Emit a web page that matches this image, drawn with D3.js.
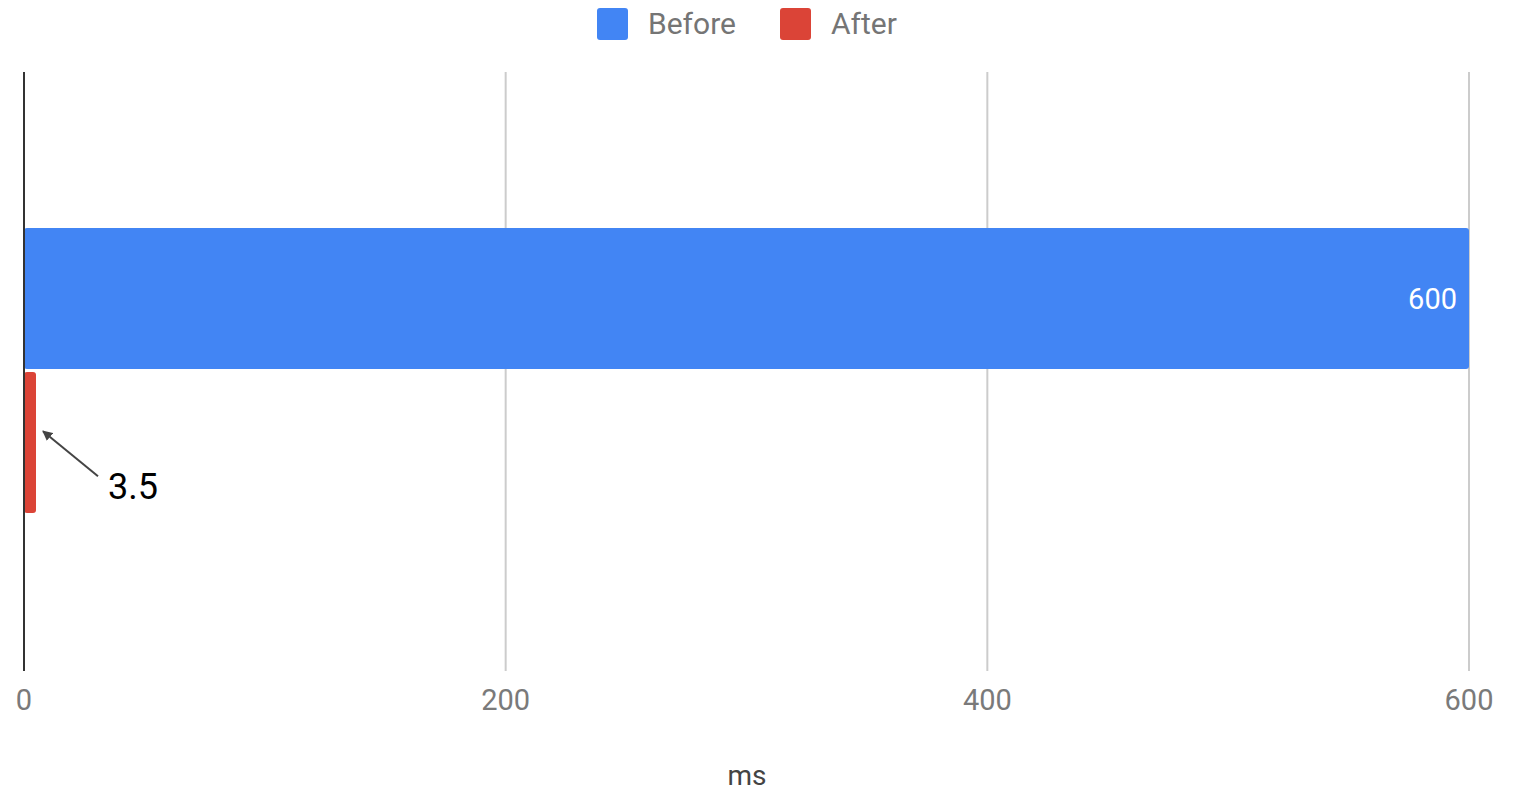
<!DOCTYPE html>
<html>
<head>
<meta charset="utf-8">
<script src="https://cdn.jsdelivr.net/npm/d3@7"></script>
<style>
  body { margin: 0; background: #fff; }
  text { font-family: Roboto, "Noto Sans", sans-serif; }
</style>
</head>
<body>
<svg id="chart" width="1514" height="791"></svg>
<script>
// data
var series = ["Before", "After"]
var values = [600, 3.5]
var colors = ["#4285f4", "#db4437"]
var xTicks = [0, 200, 400, 600]
var axisTitle = "ms"

var svg = d3.select("#chart")
var margin = {top: 72, right: 45, bottom: 120, left: 24}
var width = 1514 - margin.left - margin.right
var height = 791 - margin.top - margin.bottom

var x = d3.scaleLinear().domain([0, 600]).range([0, width])
var y = d3.scaleBand().domain(series).range([156, 441]).paddingInner(0.02)

var g = svg.append("g").attr("transform", "translate(" + margin.left + "," + margin.top + ")")

// gridlines
g.selectAll(".grid").data(xTicks.filter(d => d > 0)).enter()
  .append("line")
  .attr("x1", d => x(d)).attr("x2", d => x(d))
  .attr("y1", 0).attr("y2", height)
  .attr("stroke", "#cccccc").attr("stroke-width", 2)

// tick labels
g.selectAll(".tick").data(xTicks).enter()
  .append("text")
  .attr("x", d => x(d)).attr("y", height + 39)
  .attr("text-anchor", "middle")
  .attr("font-size", 29).attr("fill", "#7a7a7a")
  .text(d => d)

// bars (tiny bars kept visible, like the original chart)
g.selectAll(".bar").data(values).enter()
  .append("rect")
  .attr("x", 0)
  .attr("y", (d, i) => y(series[i]))
  .attr("width", d => Math.max(x(d), 12))
  .attr("height", y.bandwidth())
  .attr("rx", 3)
  .attr("fill", (d, i) => colors[i])

// zero axis line
g.append("line")
  .attr("x1", 0).attr("x2", 0).attr("y1", 0).attr("y2", height)
  .attr("stroke", "#333").attr("stroke-width", 2)

// value label inside blue bar
g.append("text")
  .attr("x", x(values[0]) - 12)
  .attr("y", y(series[0]) + y.bandwidth() / 2 + 10)
  .attr("text-anchor", "end")
  .attr("font-size", 29).attr("fill", "#fff")
  .text(values[0])

// annotation for tiny bar
svg.append("defs").append("marker")
  .attr("id", "arrow").attr("viewBox", "0 0 10 10")
  .attr("refX", 9).attr("refY", 5)
  .attr("markerWidth", 10).attr("markerHeight", 10)
  .attr("markerUnits", "userSpaceOnUse")
  .attr("orient", "auto")
  .append("path").attr("d", "M0,0 L10,5 L0,10 z").attr("fill", "#444")

var ay = y(series[1]) + y.bandwidth() * 0.42
g.append("line")
  .attr("x1", 74).attr("y1", ay + 45)
  .attr("x2", 19).attr("y2", ay)
  .attr("stroke", "#444").attr("stroke-width", 2)
  .attr("marker-end", "url(#arrow)")

svg.append("text")
  .attr("x", 108).attr("y", 499)
  .attr("font-family", "Arial, 'Liberation Sans', sans-serif")
  .attr("font-size", 36).attr("fill", "#000")
  .text(values[1])

// axis title
svg.append("text")
  .attr("x", 747).attr("y", 785)
  .attr("text-anchor", "middle")
  .attr("font-size", 28).attr("fill", "#444")
  .text(axisTitle)

// legend
var lx = [597, 780]
var leg = svg.selectAll(".legend").data(series).enter()
  .append("g").attr("transform", (d, i) => "translate(" + lx[i] + ",8)")
leg.append("rect").attr("width", 31).attr("height", 32).attr("rx", 3)
  .attr("fill", (d, i) => colors[i])
leg.append("text").attr("x", 51).attr("y", 26)
  .attr("font-size", 30).attr("fill", "#757575")
  .text(d => d)
</script>
</body>
</html>
